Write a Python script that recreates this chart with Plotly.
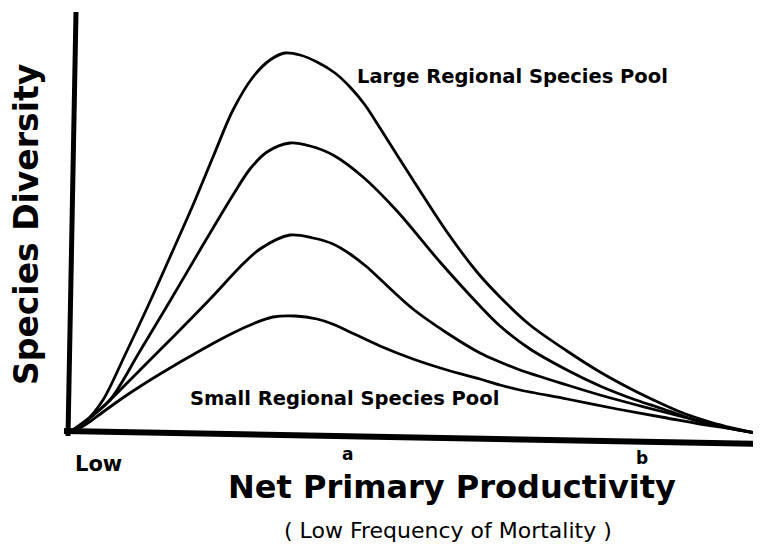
import plotly.graph_objects as go

# Schematic curves: productivity (arbitrary units from origin) vs species diversity
x_large = [0, 17, 35, 57, 80, 102, 125, 145, 165, 185, 202, 217, 232, 249, 267, 282, 297, 312,
           345, 379, 409, 432, 462, 499, 532, 565, 592, 615, 642, 665, 693]
y_large = [0, 11, 33, 78, 127, 176, 228, 276, 323, 356, 373, 380, 378, 371, 360, 346, 328, 305,
           253, 201, 161, 136, 108, 82, 61, 43, 30, 20, 11, 5, -1]

x_mid_high = [0, 17, 42, 72, 102, 132, 165, 182, 199, 222, 242, 265, 295, 329, 372, 412, 432,
              462, 499, 532, 565, 592, 615, 642, 665, 693]
y_mid_high = [0, 12, 33, 82, 132, 183, 238, 264, 281, 290, 287, 278, 256, 222, 171, 127, 107,
              84, 63, 47, 34, 25, 17, 9, 4, -1]

x_mid_low = [0, 17, 39, 72, 107, 145, 172, 192, 222, 245, 265, 282, 299, 312, 345, 379, 412,
             432, 452, 499, 532, 565, 592, 615, 642, 665, 693]
y_mid_low = [0, 11, 30, 63, 98, 137, 166, 184, 198, 195, 189, 179, 166, 154, 124, 100, 80,
             71, 63, 48, 38, 29, 22, 16, 9, 4, -1]

x_small = [0, 17, 35, 59, 92, 135, 165, 187, 205, 227, 249, 267, 282, 312, 345, 379, 412, 432,
           452, 499, 549, 599, 632, 665, 693]
y_small = [0, 8, 21, 38, 59, 84, 100, 110, 116, 117, 114, 108, 101, 87, 74, 63, 54, 48,
           43, 34, 24, 15, 9, 4, -1]

series = [(x_large, y_large), (x_mid_high, y_mid_high), (x_mid_low, y_mid_low), (x_small, y_small)]

tick_labels = ["Low", "a", "b"]
tick_positions = [30, 279, 574]
tick_label_y = [-31, -21, -25]
tick_label_sizes = [21, 17, 17]

curve_labels = ["Large Regional Species Pool", "Small Regional Species Pool"]
curve_label_x = [444, 276]
curve_label_y = [357, 35]

fig = go.Figure()
for xs, ys in series:
    fig.add_trace(go.Scatter(x=xs, y=ys, mode="lines",
                             line=dict(color="black", width=2.8, shape="spline", smoothing=0.9),
                             hoverinfo="skip", showlegend=False))

# axis lines (slightly rotated as in the scanned figure)
fig.add_shape(type="line", x0=0, y0=-3, x1=8, y1=421, line=dict(color="black", width=5))
fig.add_shape(type="line", x0=-4, y0=2, x1=701, y1=-11, line=dict(color="black", width=6))

bold = dict(family="DejaVu Sans", color="black", weight="bold")

for txt, xx, yy in zip(curve_labels, curve_label_x, curve_label_y):
    fig.add_annotation(x=xx, y=yy, text=txt, showarrow=False, xanchor="center", yanchor="middle",
                       font=dict(size=19.5, **bold))

for txt, xx, yy, sz in zip(tick_labels, tick_positions, tick_label_y, tick_label_sizes):
    fig.add_annotation(x=xx, y=yy, text=txt, showarrow=False, xanchor="center", yanchor="middle",
                       font=dict(size=sz, **bold))

fig.add_annotation(x=384, y=-54, text="Net Primary Productivity", showarrow=False,
                   xanchor="center", yanchor="middle", font=dict(size=32, **bold))
fig.add_annotation(x=380, y=-97, text="( Low Frequency of Mortality )", showarrow=False,
                   xanchor="center", yanchor="middle",
                   font=dict(size=22, family="DejaVu Sans", color="black"))
fig.add_annotation(x=-42, y=208, text="Species Diversity", showarrow=False, textangle=-90,
                   xanchor="center", yanchor="middle", font=dict(size=33, **bold))

# the page body adds an 8px offset, so the ranges are shifted to compensate
fig.update_xaxes(range=[-60, 701], visible=False, fixedrange=True)
fig.update_yaxes(range=[-121, 425], visible=False, fixedrange=True)
fig.update_layout(width=761, height=546, margin=dict(l=0, r=0, t=0, b=0),
                  plot_bgcolor="white", paper_bgcolor="white")

fig.write_html("out.html")
